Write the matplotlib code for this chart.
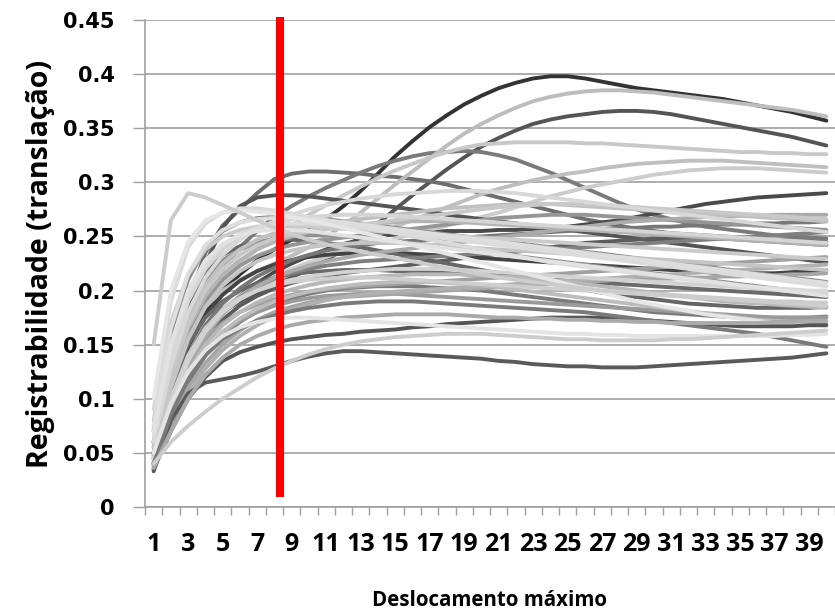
import matplotlib.pyplot as plt
from matplotlib.ticker import FixedLocator

# categorias do eixo x (deslocamento maximo) e rotulos
deslocamento = list(range(1, 41))
rotulos_x = [str(d) for d in deslocamento if d % 2 == 1]
valores_y = [0, 0.05, 0.1, 0.15, 0.2, 0.25, 0.3, 0.35, 0.4, 0.45]
rotulos_y = ['0', '0.05', '0.1', '0.15', '0.2', '0.25', '0.3', '0.35', '0.4', '0.45']

# linha vermelha (limite escolhido)
limite_x = [8.3, 8.3]
limite_y = [0.0095, 0.4525]

# registrabilidade em milesimos, uma lista por curva
curvas_altas = [
    [50, 110, 150, 180, 200, 215, 228, 238, 247, 256, 266, 278, 292, 308, 324, 338, 351, 362, 372, 380,
     387, 392, 396, 398, 398, 396, 393, 390, 387, 385, 383, 381, 379, 377, 374, 371, 368, 365, 361, 357],
    [50, 100, 140, 165, 180, 190, 198, 205, 212, 220, 228, 238, 250, 262, 275, 288, 300, 312, 323, 333,
     341, 348, 354, 358, 361, 363, 365, 366, 366, 365, 363, 360, 357, 354, 351, 348, 345, 342, 338, 334],
    [45, 130, 190, 235, 260, 275, 290, 303, 308, 310, 310, 309, 308, 306, 305, 303, 301, 298, 294, 290,
     286, 282, 278, 274, 270, 266, 263, 260, 257, 255, 253, 252, 251, 250, 249, 248, 247, 247, 246, 245],
    [40, 100, 150, 190, 220, 240, 255, 268, 278, 287, 295, 302, 309, 315, 320, 324, 327, 328, 329, 328,
     325, 321, 315, 309, 302, 295, 288, 281, 275, 270, 266, 262, 259, 257, 255, 253, 251, 250, 249, 248],
    [40, 90, 130, 160, 180, 195, 207, 217, 225, 232, 238, 243, 247, 250, 252, 253, 254, 255, 255, 255,
     256, 256, 257, 258, 259, 261, 263, 265, 268, 271, 274, 277, 280, 282, 284, 286, 287, 288, 289, 290],
    [60, 120, 160, 185, 200, 210, 218, 225, 232, 240, 250, 260, 272, 285, 298, 310, 322, 334, 345, 354,
     362, 369, 375, 379, 382, 384, 385, 385, 384, 383, 381, 379, 377, 375, 373, 371, 369, 367, 364, 361],
    [60, 120, 160, 190, 210, 225, 238, 250, 260, 270, 279, 288, 296, 304, 311, 317, 323, 328, 332, 335,
     336, 337, 337, 337, 337, 336, 336, 335, 334, 333, 332, 331, 330, 329, 328, 328, 327, 327, 326, 326],
    [50, 100, 140, 165, 180, 192, 202, 210, 218, 225, 232, 238, 245, 252, 259, 265, 271, 277, 283, 289,
     294, 298, 302, 305, 308, 310, 313, 315, 317, 318, 319, 320, 320, 320, 319, 318, 317, 316, 315, 314],
    [60, 110, 145, 168, 183, 195, 205, 213, 220, 226, 231, 236, 240, 244, 248, 252, 256, 260, 264, 268,
     272, 277, 282, 287, 291, 295, 298, 301, 304, 307, 309, 311, 312, 313, 313, 313, 312, 311, 310, 309],
]
cores_altas = ['#333333', '#555555', '#6e6e6e', '#7a7a7a', '#4a4a4a',
               '#bdbdbd', '#c8c8c8', '#bfbfbf', '#cccccc']

curvas_centrais = [
    [50, 120, 180, 225, 258, 278, 286, 288, 288, 287, 285, 283, 281, 279, 277, 275, 273, 270, 268, 266,
     264, 262, 260, 258, 256, 254, 252, 250, 248, 246, 244, 242, 240, 238, 236, 234, 232, 230, 228, 226],
    [40, 90, 128, 155, 173, 186, 195, 202, 207, 211, 214, 216, 218, 220, 222, 224, 226, 228, 230, 232,
     234, 236, 238, 240, 242, 244, 245, 246, 247, 248, 248, 248, 248, 248, 247, 246, 245, 244, 243, 242],
    [48, 105, 148, 177, 196, 209, 218, 224, 228, 231, 233, 234, 235, 235, 235, 234, 233, 232, 231, 230,
     229, 228, 227, 226, 225, 224, 223, 222, 221, 220, 219, 218, 217, 216, 216, 216, 216, 217, 218, 219],
    [60, 140, 190, 218, 233, 241, 245, 247, 247, 246, 244, 242, 240, 237, 234, 231, 228, 225, 222, 219,
     216, 213, 210, 207, 204, 201, 198, 196, 194, 192, 190, 188, 187, 186, 185, 184, 184, 184, 184, 185],
    [50, 110, 150, 175, 190, 200, 207, 212, 215, 217, 218, 219, 219, 219, 218, 218, 217, 216, 215, 214,
     213, 212, 211, 210, 209, 208, 207, 206, 205, 204, 203, 202, 201, 200, 199, 198, 197, 196, 195, 194],
    [45, 100, 140, 168, 188, 202, 213, 221, 228, 233, 237, 240, 242, 244, 245, 246, 247, 248, 249, 250,
     251, 252, 253, 254, 255, 256, 257, 258, 258, 259, 259, 260, 260, 261, 261, 262, 262, 263, 263, 264],
    [35, 80, 115, 140, 158, 171, 181, 188, 193, 197, 200, 202, 203, 204, 204, 204, 203, 202, 201, 200,
     198, 196, 194, 192, 190, 188, 186, 184, 182, 180, 179, 178, 177, 176, 175, 175, 175, 175, 175, 176],
    [42, 92, 132, 160, 180, 194, 204, 211, 216, 220, 223, 225, 227, 228, 229, 230, 231, 232, 233, 234,
     235, 236, 237, 238, 239, 240, 241, 242, 243, 244, 245, 246, 247, 248, 249, 250, 251, 252, 253, 254],
    [70, 160, 210, 240, 255, 263, 267, 268, 268, 267, 266, 264, 262, 260, 258, 256, 254, 252, 250, 248,
     246, 244, 242, 240, 238, 236, 234, 232, 230, 228, 226, 224, 222, 220, 218, 216, 214, 212, 210, 208],
    [55, 130, 180, 210, 228, 238, 244, 248, 250, 251, 251, 250, 249, 248, 246, 244, 242, 240, 238, 236,
     234, 232, 230, 228, 226, 224, 222, 220, 218, 216, 214, 212, 210, 208, 206, 204, 202, 200, 198, 196],
    [50, 115, 160, 190, 210, 223, 232, 238, 242, 245, 247, 249, 251, 253, 255, 257, 259, 261, 263, 265,
     267, 268, 269, 270, 270, 270, 269, 268, 267, 266, 265, 264, 263, 262, 261, 260, 259, 258, 257, 256],
    [38, 82, 118, 143, 160, 172, 180, 186, 190, 193, 195, 196, 197, 197, 197, 196, 195, 194, 193, 192,
     191, 190, 189, 188, 187, 186, 185, 184, 183, 182, 181, 180, 179, 178, 177, 176, 175, 175, 175, 175],
    [45, 95, 130, 155, 170, 180, 187, 192, 196, 199, 201, 203, 204, 205, 206, 207, 208, 209, 210, 211,
     212, 213, 214, 215, 216, 217, 218, 219, 220, 221, 222, 223, 224, 225, 226, 227, 228, 229, 230, 231],
    [36, 78, 110, 133, 150, 163, 173, 180, 185, 189, 192, 194, 195, 196, 197, 198, 199, 200, 201, 202,
     203, 204, 205, 206, 207, 208, 209, 210, 210, 211, 211, 212, 212, 213, 213, 214, 214, 215, 215, 216],
    [40, 90, 130, 158, 178, 193, 204, 212, 218, 223, 227, 230, 233, 235, 237, 239, 241, 243, 245, 247,
     249, 251, 253, 255, 257, 259, 261, 263, 264, 265, 266, 267, 268, 268, 269, 269, 270, 270, 270, 270],
    [38, 75, 105, 128, 145, 158, 168, 176, 182, 187, 191, 194, 196, 198, 199, 200, 201, 202, 203, 204,
     205, 206, 207, 208, 209, 210, 211, 212, 213, 214, 215, 216, 217, 218, 219, 220, 221, 222, 223, 224],
    [50, 120, 165, 195, 215, 228, 238, 245, 250, 254, 257, 259, 261, 262, 263, 264, 264, 264, 263, 262,
     261, 260, 259, 258, 257, 256, 255, 254, 253, 252, 251, 250, 249, 248, 247, 246, 245, 244, 243, 242],
    [42, 88, 125, 150, 168, 180, 189, 196, 201, 205, 208, 210, 212, 213, 214, 215, 215, 215, 215, 214,
     213, 212, 211, 210, 208, 206, 204, 202, 200, 198, 196, 194, 192, 190, 189, 188, 187, 186, 185, 184],
    [40, 85, 120, 145, 162, 174, 183, 190, 195, 199, 202, 204, 206, 207, 208, 208, 208, 207, 206, 205,
     203, 201, 199, 197, 195, 193, 191, 189, 187, 185, 183, 181, 179, 177, 175, 173, 172, 171, 170, 170],
    [55, 125, 175, 205, 225, 238, 247, 253, 257, 260, 262, 264, 266, 268, 270, 272, 274, 276, 277, 278,
     279, 280, 280, 280, 279, 278, 277, 276, 275, 274, 273, 272, 271, 270, 269, 268, 267, 266, 265, 264],
    [50, 110, 155, 185, 205, 218, 227, 233, 237, 240, 242, 243, 244, 244, 244, 243, 242, 241, 240, 239,
     238, 237, 236, 235, 234, 233, 232, 231, 230, 229, 228, 227, 226, 225, 224, 223, 222, 221, 220, 219],
    [55, 120, 168, 200, 220, 233, 242, 248, 252, 255, 257, 259, 261, 263, 265, 267, 269, 271, 273, 275,
     277, 278, 279, 280, 280, 280, 279, 278, 277, 276, 275, 274, 273, 272, 271, 270, 269, 268, 267, 266],
    [80, 170, 215, 238, 250, 256, 259, 260, 260, 259, 258, 257, 256, 255, 254, 253, 252, 251, 250, 249,
     248, 247, 246, 245, 244, 243, 242, 241, 240, 239, 238, 237, 236, 235, 234, 233, 232, 231, 230, 229],
    [45, 100, 140, 165, 182, 193, 200, 205, 208, 210, 211, 212, 212, 212, 211, 210, 209, 208, 207, 206,
     205, 204, 203, 202, 201, 200, 199, 198, 197, 196, 195, 194, 193, 192, 191, 190, 189, 188, 187, 186],
    [45, 95, 135, 162, 180, 192, 200, 206, 210, 213, 215, 217, 218, 219, 220, 220, 220, 220, 219, 218,
     217, 216, 215, 214, 213, 212, 211, 210, 209, 208, 207, 206, 205, 204, 203, 202, 201, 200, 199, 198],
    [60, 140, 190, 220, 238, 250, 258, 263, 266, 268, 269, 270, 270, 270, 269, 268, 267, 266, 265, 264,
     263, 262, 261, 260, 259, 258, 257, 256, 255, 254, 253, 252, 251, 250, 249, 248, 247, 246, 245, 244],
    [60, 130, 180, 212, 233, 247, 257, 264, 270, 275, 279, 282, 285, 287, 289, 290, 291, 292, 292, 292,
     291, 290, 288, 286, 284, 282, 280, 278, 276, 274, 272, 270, 268, 266, 264, 262, 260, 258, 256, 254],
    [90, 190, 240, 262, 272, 276, 276, 274, 271, 268, 265, 262, 259, 256, 253, 250, 247, 244, 241, 238,
     235, 232, 229, 226, 224, 222, 220, 218, 216, 214, 212, 210, 208, 206, 204, 203, 202, 201, 200, 200],
    [65, 145, 195, 225, 242, 252, 258, 261, 262, 262, 261, 260, 258, 256, 254, 252, 250, 248, 246, 244,
     242, 240, 238, 236, 234, 232, 230, 228, 226, 224, 222, 220, 218, 216, 214, 212, 210, 208, 206, 204],
    [75, 165, 215, 242, 256, 263, 266, 267, 267, 266, 265, 263, 261, 259, 257, 255, 253, 251, 249, 247,
     245, 243, 241, 239, 237, 235, 233, 231, 229, 227, 225, 223, 221, 219, 217, 215, 213, 211, 209, 207],
    [70, 150, 200, 228, 243, 251, 255, 256, 256, 255, 253, 251, 249, 247, 245, 243, 241, 239, 237, 235,
     233, 231, 229, 227, 225, 223, 221, 219, 217, 215, 213, 211, 209, 207, 205, 203, 201, 199, 197, 195],
    [100, 200, 245, 265, 272, 274, 273, 271, 268, 265, 262, 258, 254, 250, 246, 242, 238, 234, 230, 226,
     222, 218, 214, 210, 206, 202, 198, 194, 190, 187, 184, 181, 178, 176, 174, 172, 170, 169, 168, 167],
    [150, 265, 290, 286, 279, 272, 265, 258, 252, 247, 243, 239, 236, 233, 230, 227, 224, 221, 218, 215,
     212, 210, 208, 206, 204, 202, 200, 199, 198, 197, 196, 195, 194, 193, 192, 191, 190, 190, 189, 189],
]
cores_centrais = ['#555555', '#5c5c5c', '#444444', '#666666', '#6a6a6a', '#777777',
                  '#7a7a7a', '#808080', '#8c8c8c', '#909090', '#969696', '#9a9a9a',
                  '#a0a0a0', '#a6a6a6', '#aaaaaa', '#b0b0b0', '#b4b4b4', '#b8b8b8',
                  '#bcbcbc', '#c0c0c0', '#c4c4c4', '#c8c8c8', '#cbcbcb', '#cecece',
                  '#d2d2d2', '#d5d5d5', '#d8d8d8', '#dadada', '#dcdcdc', '#dedede',
                  '#e2e2e2', '#e6e6e6', '#cccccc']

curvas_baixas = [
    [33, 80, 105, 115, 118, 121, 125, 130, 135, 139, 142, 144, 144, 143, 142, 141, 140, 139, 138, 137,
     135, 134, 132, 131, 130, 130, 129, 129, 129, 130, 131, 132, 133, 134, 135, 136, 137, 138, 140, 142],
    [35, 70, 100, 120, 135, 143, 148, 152, 155, 157, 159, 160, 162, 163, 164, 166, 167, 169, 170, 171,
     172, 173, 174, 175, 175, 175, 175, 174, 173, 172, 171, 170, 169, 168, 167, 167, 167, 167, 168, 168],
    [40, 85, 118, 140, 155, 165, 172, 177, 181, 184, 186, 188, 189, 190, 190, 190, 189, 188, 187, 186,
     185, 184, 183, 182, 181, 180, 178, 176, 174, 172, 170, 168, 166, 164, 162, 160, 157, 154, 151, 148],
    [36, 70, 100, 122, 138, 150, 158, 164, 168, 171, 173, 175, 176, 177, 178, 178, 178, 178, 177, 176,
     175, 175, 174, 174, 173, 173, 172, 172, 171, 171, 170, 170, 170, 170, 170, 170, 171, 171, 172, 172],
    [50, 95, 125, 145, 158, 166, 171, 174, 175, 175, 174, 173, 172, 171, 170, 169, 168, 167, 166, 165,
     164, 163, 162, 161, 160, 160, 159, 159, 158, 158, 158, 158, 158, 158, 158, 158, 158, 159, 159, 160],
    [40, 60, 75, 88, 100, 110, 120, 128, 135, 141, 146, 150, 153, 155, 157, 158, 159, 160, 160, 160,
     159, 158, 157, 156, 155, 155, 154, 154, 154, 154, 155, 155, 156, 157, 158, 159, 160, 161, 162, 163],
]
cores_baixas = ['#5a5a5a', '#555555', '#7a7a7a', '#aaaaaa', '#e4e4e4', '#cdcdcd']

cinza = '#a0a0a0'
fonte = ['Open Sans', 'DejaVu Sans']

fig = plt.figure(figsize=(8.35, 6.12), dpi=100)
ax = fig.add_axes([145 / 835, 1 - 507 / 612, 690 / 835, 487 / 612])

for curvas, cores in [(curvas_altas, cores_altas), (curvas_centrais, cores_centrais),
                      (curvas_baixas, cores_baixas)]:
    for valores, cor in zip(curvas, cores):
        ax.plot(deslocamento, [v / 1000 for v in valores], color=cor, lw=2.8,
                solid_joinstyle='round', solid_capstyle='round', zorder=2)

ax.plot(limite_x, limite_y, color='#ff0000', lw=5.8, solid_capstyle='butt',
        clip_on=False, zorder=5)

ax.set_xlim(0.5, 40.5)
ax.set_ylim(0, 0.45)

# ticks do eixo x nas fronteiras entre categorias, rotulos nas categorias impares
ax.xaxis.set_major_locator(FixedLocator([d - 0.5 for d in deslocamento] + [40.5]))
ax.xaxis.set_minor_locator(FixedLocator([d for d in deslocamento if d % 2 == 1]))
ax.xaxis.set_major_formatter(plt.NullFormatter())
ax.set_xticklabels(rotulos_x, minor=True, fontfamily=fonte, fontweight='bold', fontsize=18)
ax.tick_params(axis='x', which='major', direction='out', length=6, width=1, color=cinza)
ax.tick_params(axis='x', which='minor', length=0, pad=18)

ax.set_yticks(valores_y)
ax.set_yticklabels(rotulos_y, fontfamily='DejaVu Sans', fontweight='bold', fontsize=15)
ax.tick_params(axis='y', direction='out', length=9, width=1, color=cinza, pad=13)

ax.grid(axis='y', color=cinza, lw=1.2)
ax.set_axisbelow(True)
for lado in ['top', 'right']:
    ax.spines[lado].set_visible(False)
for lado in ['left', 'bottom']:
    ax.spines[lado].set_color(cinza)
    ax.spines[lado].set_linewidth(1.2)

ax.set_xlabel('Deslocamento máximo', fontfamily=fonte, fontweight='bold',
              fontsize=14.8, labelpad=24)
ax.set_ylabel('Registrabilidade (translação)', fontfamily=fonte, fontweight='bold',
              fontsize=20.5, labelpad=6)

fig.savefig('out.png', dpi=100)
